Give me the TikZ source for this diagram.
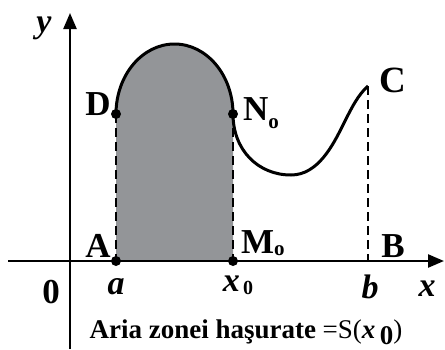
\documentclass[tikz,border=0pt]{standalone}
\usepackage{fontspec}
\setmainfont{Liberation Serif}
\usetikzlibrary{arrows.meta}
\definecolor{areagray}{RGB}{147,149,152}
\begin{document}
\begin{tikzpicture}[x=1pt,y=-1pt,
  lab/.style={font=\fontsize{35}{37}\selectfont\bfseries, inner sep=0pt},
  ilab/.style={font=\fontsize{34}{36}\selectfont\bfseries\itshape, inner sep=0pt},
  axis/.style={line width=2.4pt,-{Triangle[length=16pt,width=13pt]}},
  curve/.style={line width=3pt},
  guide/.style={line width=1.7pt,dash pattern=on 9pt off 5pt},
  dot/.style={circle,fill=black,inner sep=0pt,minimum size=10pt}]
\useasboundingbox (0,0) rectangle (445,349);
\coordinate (A) at (116,261);
\coordinate (M) at (233,261);
\coordinate (D) at (116,114);
\coordinate (N) at (233,114);
\coordinate (T) at (174.5,44);
\coordinate (Q) at (291,175);
\coordinate (R) at (343,125);
\coordinate (C) at (368,86);
\coordinate (B) at (368,261);
\coordinate (xs) at (8,261);
\coordinate (xe) at (444,261);
\coordinate (ys) at (70,349);
\coordinate (ye) at (70,13);
% shaded area
\fill[areagray] (A) -- (D) .. controls (116,75.3) and (142.2,44) .. (T)
  .. controls (206.8,44) and (233,75.3) .. (N) -- (M) -- cycle;
% guides
\draw[guide] (D) -- (A);
\draw[guide] (N) -- (M);
\draw[guide] (C) -- (B);
% curve
\draw[curve] (D) .. controls (116,75.3) and (142.2,44) .. (T)
  .. controls (206.8,44) and (233,75.3) .. (N)
  .. controls (233,150) and (258,175) .. (Q)
  .. controls (318,175) and (333,145) .. (R)
  .. controls (352,107) and (358,95) .. (C);
% axes
\draw[axis] (xs) -- (xe);
\draw[axis] (ys) -- (ye);
% dots
\node[dot] (dA) at (A) {};
\node[dot] (dM) at (M) {};
\node[dot] (dD) at (D) {};
\node[dot] (dN) at (N) {};
% labels
\node[ilab] (ly) at (44,28) {y};
\node[lab] (lD) at (98,104) {D};
\node[lab,anchor=west] (lN) at (243,113) {N\raisebox{-8pt}{\fontsize{21}{21}\selectfont o}};
\node[lab,font=\fontsize{37}{39}\selectfont\bfseries] (lC) at (393,80) {C};
\node[lab] (lA) at (98,246) {A};
\node[lab,anchor=west] (lM) at (241,243) {M\raisebox{-2pt}{\fontsize{21}{21}\selectfont o}};
\node[lab] (lB) at (393,246) {B};
\node[lab] (l0) at (51,292) {0};
\node[ilab] (la) at (116,287) {a};
\node[ilab] (lx0) at (238,285) {x\raisebox{-3pt}{\upshape\fontsize{20}{20}\selectfont\,0}};
\node[ilab] (lb) at (370,287) {b};
\node[ilab] (lx) at (427,289) {x};
\node[inner sep=0pt,font=\fontsize{27}{29}\selectfont] (cap) at (246,332)
  {\textbf{Aria zonei haşurate} =S(\textbf{\textit{x}}\,\raisebox{-6pt}{\textbf{0}})};
\end{tikzpicture}
\end{document}
